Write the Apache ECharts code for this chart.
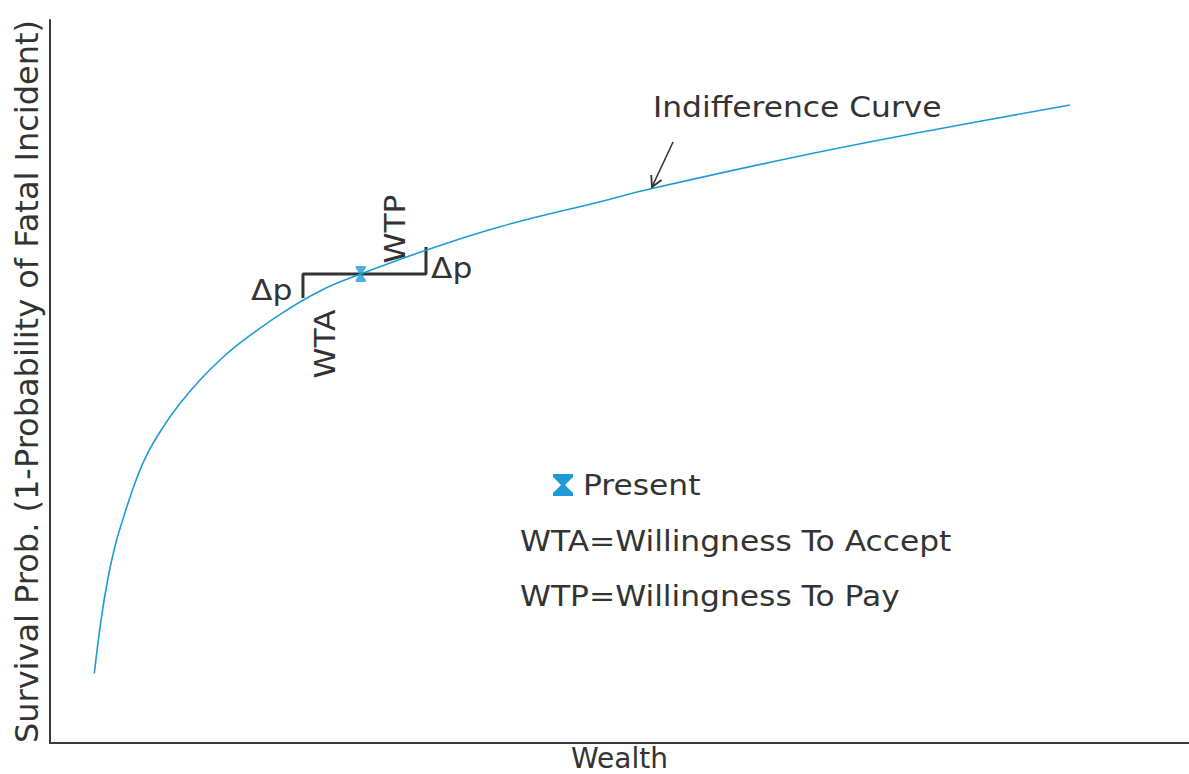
<!DOCTYPE html>
<html>
<head>
<meta charset="utf-8">
<script src="https://cdn.jsdelivr.net/npm/echarts@6/dist/echarts.min.js"></script>
<style>html,body{margin:0;padding:0;background:#fff}#c{width:1189px;height:774px}</style>
</head>
<body>
<div id="c"></div>
<script>
// Indifference curve (wealth, survival prob) in arbitrary 0-100 units
const curveX = [3.89, 4.48, 5.09, 5.71, 6.38, 7.46, 8.49, 9.95, 11.41, 13.17, 14.93, 16.83, 20.34, 23.88, 27.28, 33.07, 39.51, 48.29, 52.94, 65.85, 77.52, 89.55];
const curveY = [9.64, 17.01, 22.82, 27.25, 30.84, 35.96, 39.83, 43.75, 46.96, 50.21, 52.97, 55.50, 59.43, 62.66, 64.87, 68.19, 71.41, 74.87, 76.72, 81.19, 84.79, 88.24];
// Present point
const presentPt = [27.28, 64.87];
// WTA bracket (left) and WTP bracket (right)
const wtaX = [22.21, 22.21, 27.28];
const wtaY = [61.55, 64.87, 64.87];
const wtpX = [27.28, 33.01, 33.01];
const wtpY = [64.87, 64.87, 68.6];
// Arrow pointing to curve
const arrowX = [54.7, 52.85];
const arrowY = [83.13, 76.9];

const texts = {
  xName: 'Wealth',
  yName: 'Survival Prob. (1-Probability of Fatal Incident)',
  curve: 'Indifference Curve',
  present: 'Present',
  wta: 'WTA=Willingness To Accept',
  wtp: 'WTP=Willingness To Pay'
};

const FONT = '"DejaVu Sans", Verdana, sans-serif';
const TXT = '#333';
const BLUE = '#1e9bd7';
const SX = 1.08;
const hourglass = 'path://M0,0 L20,0 L20,3 L12,11 L20,19 L20,22 L0,22 L0,19 L8,11 L0,3 Z';
const hgPts = [[0,0],[20,0],[20,3],[12,11],[20,19],[20,22],[0,22],[0,19],[8,11],[0,3]];

const zip = (a, b) => a.map((v, i) => [v, b[i]]);
const txt = (id, s, x, y, extra) => Object.assign({
  id: id, type: 'text', x: x, y: y, scaleX: SX,
  style: {text: s, font: '29px ' + FONT, fill: TXT}
}, extra || {});

const chart = echarts.init(document.getElementById('c'), null, {renderer: 'svg'});
chart.setOption({
  animation: false,
  backgroundColor: '#fff',
  grid: {left: 50, right: 0, top: 20, bottom: 31, outerBoundsMode: 'none', containLabel: false},
  xAxis: {
    type: 'value', min: 0, max: 100,
    name: texts.xName, nameLocation: 'middle', nameGap: 0,
    nameTextStyle: {fontFamily: FONT, fontSize: 28, lineHeight: 30, color: TXT, verticalAlign: 'top'},
    axisLine: {lineStyle: {color: '#3a3a3a', width: 2}},
    axisTick: {show: false}, axisLabel: {show: false}, splitLine: {show: false}
  },
  yAxis: {
    type: 'value', min: 0, max: 100,
    name: texts.yName, nameLocation: 'middle', nameGap: 7,
    nameTextStyle: {fontFamily: FONT, fontSize: 32, color: TXT, verticalAlign: 'bottom'},
    axisLine: {show: true, lineStyle: {color: '#3a3a3a', width: 2}},
    axisTick: {show: false}, axisLabel: {show: false}, splitLine: {show: false}
  },
  series: [
    {
      type: 'line', data: zip(curveX, curveY), smooth: 0.4, showSymbol: false,
      lineStyle: {color: BLUE, width: 1.6}, z: 3
    },
    {
      type: 'line', data: zip(wtaX, wtaY), showSymbol: false,
      lineStyle: {color: '#333', width: 3}, z: 2
    },
    {
      type: 'line', data: zip(wtpX, wtpY), showSymbol: false,
      lineStyle: {color: '#333', width: 3}, z: 2
    },
    {
      type: 'line', data: zip(arrowX, arrowY), showSymbol: false,
      lineStyle: {color: '#333', width: 1.6}, z: 2
    },
    {
      type: 'scatter', data: [presentPt], symbol: hourglass, symbolSize: [10, 16],
      itemStyle: {color: BLUE}, z: 5
    }
  ],
  graphic: [
    txt('tCurve', texts.curve, 653, 92),
    {id: 'legMark', type: 'polygon', x: 553, y: 474, shape: {points: hgPts}, style: {fill: BLUE}},
    txt('tPresent', texts.present, 583, 470),
    txt('tWta', texts.wta, 520, 526),
    txt('tWtp', texts.wtp, 520, 581),
    txt('tDp1', 'Δp', 251, 275),
    txt('tDp2', 'Δp', 431, 253),
    txt('tWTP', 'WTP', 395, 229, {rotation: Math.PI / 2,
      style: {text: 'WTP', font: '29px ' + FONT, fill: TXT, align: 'center', verticalAlign: 'middle'}}),
    txt('tWTA', 'WTA', 325, 344, {rotation: Math.PI / 2,
      style: {text: 'WTA', font: '29px ' + FONT, fill: TXT, align: 'center', verticalAlign: 'middle'}})
  ]
});

// arrow head at the end of the arrow line (pixel positions from data coords)
const p0 = chart.convertToPixel({gridIndex: 0}, [arrowX[0], arrowY[0]]);
const p1 = chart.convertToPixel({gridIndex: 0}, [arrowX[1], arrowY[1]]);
const ang = Math.atan2(p1[1] - p0[1], p1[0] - p0[0]);
const hl = 12, ha = 0.5;
chart.setOption({
  graphic: [{
    id: 'arrowHead', type: 'polyline', z: 10,
    shape: {points: [
      [p1[0] - hl * Math.cos(ang - ha), p1[1] - hl * Math.sin(ang - ha)],
      p1,
      [p1[0] - hl * Math.cos(ang + ha), p1[1] - hl * Math.sin(ang + ha)]
    ]},
    style: {stroke: '#333', lineWidth: 1.8, fill: null}
  }]
});
</script>
</body>
</html>
